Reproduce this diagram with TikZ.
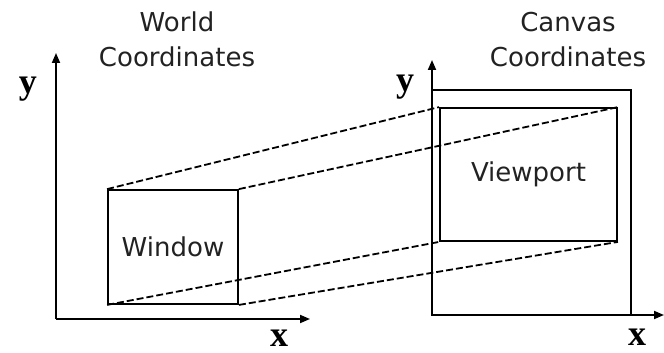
\documentclass[tikz,border=0pt]{standalone}
\usepackage{fontspec}
\setmainfont{DejaVu Sans}
\newfontfamily\serifax{Liberation Serif}
\usetikzlibrary{arrows.meta}
\definecolor{inkgray}{HTML}{222222}
\tikzset{
  axis/.style={line width=1.8pt,-{Triangle[length=10pt,width=8pt]}},
  boxline/.style={draw,line width=1.8pt,rectangle,inner sep=0pt},
  proj/.style={line width=1.8pt,dash pattern=on 7pt off 3pt},
  caption/.style={font=\fontsize{26}{35}\selectfont,text=inkgray,align=center},
  axlabel/.style={font=\serifax\bfseries\fontsize{36}{36}\selectfont,anchor=base,inner sep=0pt}
}
\begin{document}
\begin{tikzpicture}[x=1pt,y=-1pt]
\useasboundingbox (0,0) rectangle (664,353);
% left axes
\coordinate (lo) at (56,319);
\coordinate (ly) at (56,53);
\coordinate (lx) at (310,319);
\draw[axis] (lo) -- (ly);
\draw[axis] (lo) -- (lx);
% right axes
\coordinate (ro) at (432,315);
\coordinate (ry) at (432,60);
\coordinate (rx) at (664,315);
% canvas
\node[boxline,minimum width=199pt,minimum height=225pt] (canvas) at (531.5,202.5) {};
\draw[axis] (ro) -- (ry);
\draw[axis] (ro) -- (rx);
% window and viewport
\node[boxline,minimum width=130pt,minimum height=114pt,caption] (win) at (173,247) {Window};
\node[boxline,minimum width=177pt,minimum height=133pt,caption] (vp) at (528.5,174.5) {Viewport};
% projection lines
\draw[proj] (win.north west) -- (vp.north west);
\draw[proj] (win.north east) -- (vp.north east);
\draw[proj] (win.south west) -- (vp.south west);
\draw[proj] (win.south east) -- (vp.south east);
% captions
\node[caption] (wc) at (177,39.5) {World\\Coordinates};
\node[caption] (cc) at (568,39.5) {Canvas\\Coordinates};
% axis labels
\node[axlabel] (lyl) at (28,93) {y};
\node[axlabel] (lxl) at (279,346) {x};
\node[axlabel] (ryl) at (405,92) {y};
\node[axlabel] (rxl) at (637,345) {x};
\end{tikzpicture}
\end{document}
